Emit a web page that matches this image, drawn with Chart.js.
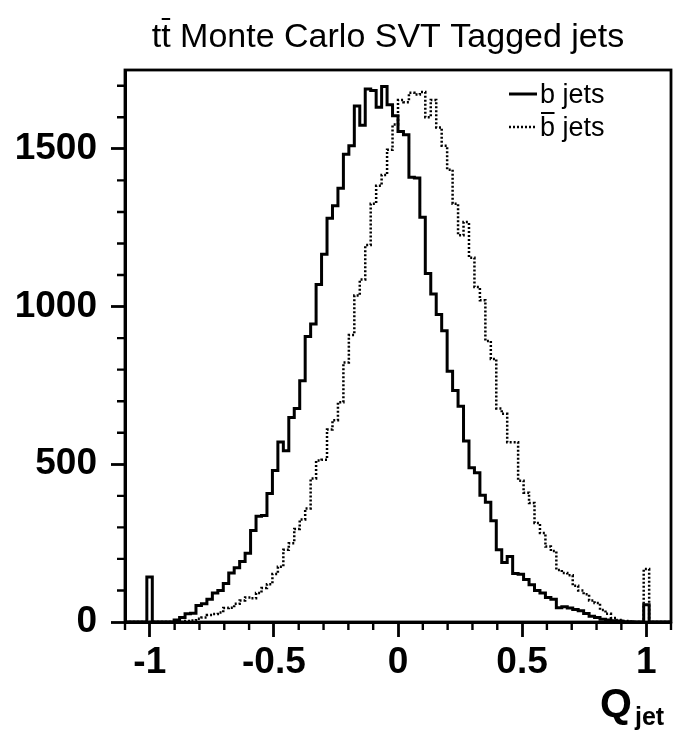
<!DOCTYPE html>
<html>
<head>
<meta charset="utf-8">
<script src="https://cdn.jsdelivr.net/npm/chart.js@4.4.1/dist/chart.umd.min.js"></script>
<style>
  html, body { margin: 0; padding: 0; background: #fff; }
</style>
</head>
<body>
<canvas id="qjet" width="673" height="730"></canvas>
<script>
// histogram binning: 100 bins from -1.1 to 1.1
const xMin = -1.1;
const xMax = 1.1;
const nBins = 100;

const xTicks = [-1, -0.5, 0, 0.5, 1];
const xMinorTicks = [-1.1, -0.9, -0.8, -0.7, -0.6, -0.4, -0.3, -0.2, -0.1,
                     0.1, 0.2, 0.3, 0.4, 0.6, 0.7, 0.8, 0.9, 1.1];
const yTicks = [0, 500, 1000, 1500];
const yMinorTicks = [100, 200, 300, 400, 600, 700, 800, 900,
                     1100, 1200, 1300, 1400, 1600, 1700];

// counts per bin
const bJets = [
  0, 0, 0, 0, 143, 0, 0, 0, 0, 6,
  14, 26, 28, 52, 58, 72, 92, 100, 122, 155,
  172, 192, 218, 290, 335, 338, 407, 480, 571, 543,
  648, 677, 765, 905, 945, 1070, 1166, 1280, 1320, 1375,
  1483, 1510, 1636, 1575, 1690, 1685, 1632, 1698, 1640, 1605,
  1555, 1545, 1410, 1408, 1283, 1105, 1040, 975, 923, 795,
  734, 684, 574, 489, 473, 402, 380, 321, 229, 189,
  208, 154, 151, 135, 118, 100, 92, 78, 72, 45,
  48, 44, 40, 36, 27, 18, 14, 9, 6, 4,
  3, 1, 1, 0, 0, 55, 0, 0, 0, 0
];
const bbarJets = [
  0, 0, 0, 0, 0, 0, 0, 0, 0, 0,
  0, 3, 5, 10, 14, 22, 25, 30, 44, 45,
  58, 68, 78, 75, 92, 108, 120, 152, 175, 229,
  250, 295, 325, 360, 455, 512, 514, 610, 640, 697,
  823, 910, 1035, 1086, 1195, 1326, 1383, 1417, 1497, 1577,
  1655, 1648, 1678, 1672, 1680, 1600, 1655, 1568, 1510, 1434,
  1326, 1226, 1268, 1155, 1062, 1020, 891, 834, 677, 660,
  570, 570, 448, 410, 377, 314, 282, 239, 225, 165,
  155, 148, 115, 100, 88, 68, 60, 38, 26, 13,
  6, 3, 1, 0, 0, 168, 0, 0, 0, 0
];

const FONT = '"Liberation Sans", Arial, Helvetica, sans-serif';

// left bin edges + closing point, drawn as steps
function toSteps(counts) {
  const w = (xMax - xMin) / nBins;
  const pts = counts.map((c, i) => ({ x: xMin + i * w, y: c }));
  pts.push({ x: xMax, y: 0 });
  return pts;
}

const decorations = {
  id: 'decorations',
  afterDraw(chart) {
    const { ctx, chartArea: a, scales: { x, y } } = chart;
    ctx.save();
    ctx.strokeStyle = '#000';
    ctx.fillStyle = '#000';

    // frame
    ctx.lineWidth = 2.8;
    ctx.strokeRect(a.left, a.top, a.right - a.left, a.bottom - a.top);

    // minor ticks
    ctx.lineWidth = 2.4;
    ctx.beginPath();
    xMinorTicks.forEach(v => {
      const px = x.getPixelForValue(v);
      ctx.moveTo(px, a.bottom);
      ctx.lineTo(px, a.bottom + 8);
    });
    yMinorTicks.forEach(v => {
      const py = y.getPixelForValue(v);
      ctx.moveTo(a.left, py);
      ctx.lineTo(a.left - 8, py);
    });
    ctx.stroke();

    // title
    ctx.font = '34px ' + FONT;
    ctx.textBaseline = 'alphabetic';
    ctx.textAlign = 'left';
    const title = 'tt Monte Carlo SVT Tagged jets';
    const tw = ctx.measureText(title).width;
    const tx = 388 - tw / 2;
    ctx.fillText(title, tx, 47);
    const t1 = ctx.measureText('t').width;
    ctx.lineWidth = 2;
    ctx.beginPath();
    ctx.moveTo(tx + t1 + 0.5, 19);
    ctx.lineTo(tx + 2 * t1 - 0.5, 19);
    ctx.stroke();

    // legend
    ctx.lineWidth = 3;
    ctx.beginPath();
    ctx.moveTo(509, 94);
    ctx.lineTo(537, 94);
    ctx.stroke();
    ctx.lineWidth = 2.5;
    ctx.setLineDash([2, 2]);
    ctx.beginPath();
    ctx.moveTo(509, 127);
    ctx.lineTo(535, 127);
    ctx.stroke();
    ctx.setLineDash([]);
    ctx.font = '27px ' + FONT;
    ctx.fillText('b jets', 540, 103);
    ctx.fillText('b jets', 540, 136);
    const bw = ctx.measureText('b').width;
    ctx.lineWidth = 2;
    ctx.beginPath();
    ctx.moveTo(541, 113);
    ctx.lineTo(540 + bw - 0.5, 113);
    ctx.stroke();

    // axis title
    ctx.font = 'bold 41px ' + FONT;
    ctx.fillText('Q', 600, 717);
    ctx.font = 'bold 25px ' + FONT;
    ctx.fillText('jet', 635, 725);

    ctx.restore();
  }
};

new Chart(document.getElementById('qjet'), {
  type: 'line',
  data: {
    datasets: [
      {
        label: 'b jets',
        data: toSteps(bJets),
        stepped: 'before',
        borderColor: '#000',
        borderWidth: 3,
        pointRadius: 0,
        fill: false
      },
      {
        label: 'bbar jets',
        data: toSteps(bbarJets),
        stepped: 'before',
        borderColor: '#000',
        borderWidth: 2.5,
        borderDash: [2, 2],
        pointRadius: 0,
        fill: false
      }
    ]
  },
  options: {
    responsive: false,
    animation: false,
    layout: { padding: { top: 70, right: 2, left: 0, bottom: 0 } },
    plugins: {
      legend: { display: false },
      tooltip: { enabled: false },
      title: { display: false }
    },
    scales: {
      x: {
        type: 'linear',
        min: xMin,
        max: xMax,
        afterBuildTicks: s => { s.ticks = xTicks.map(v => ({ value: v })); },
        afterFit: s => { s.height = 108; },
        ticks: {
          color: '#000',
          font: { family: FONT, size: 37, weight: 'bold' },
          padding: 4,
          maxRotation: 0,
          autoSkip: false,
          callback: v => String(v)
        },
        grid: {
          drawOnChartArea: false,
          drawTicks: true,
          tickLength: 15,
          tickWidth: 2.8,
          tickColor: '#000'
        },
        border: { display: true, color: '#000', width: 3 }
      },
      y: {
        type: 'linear',
        min: 0,
        max: 1750,
        afterBuildTicks: s => { s.ticks = yTicks.map(v => ({ value: v })); },
        afterFit: s => { s.width = 125; },
        ticks: {
          color: '#000',
          font: { family: FONT, size: 37, weight: 'bold' },
          padding: 14,
          autoSkip: false,
          callback: v => String(v)
        },
        grid: {
          drawOnChartArea: false,
          drawTicks: true,
          tickLength: 14,
          tickWidth: 2.8,
          tickColor: '#000'
        },
        border: { display: true, color: '#000', width: 3 }
      }
    }
  },
  plugins: [decorations]
});
</script>
</body>
</html>
